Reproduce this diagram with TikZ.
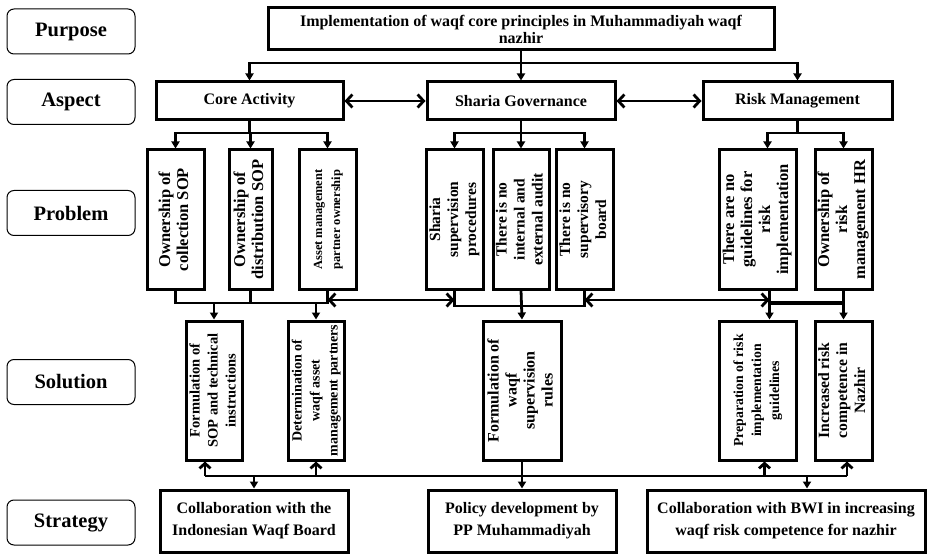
\documentclass[tikz,border=0pt]{standalone}
\usepackage{fontspec}
\setmainfont{Liberation Serif}
\usetikzlibrary{arrows.meta}
\usetikzlibrary{calc}

% rotated multi-line text for the tall boxes
\newcommand{\vtxt}[2]{\rotatebox{90}{\fontsize{#1}{18}\selectfont\begin{tabular}{@{}c@{}}#2\end{tabular}}}

\begin{document}
\begin{tikzpicture}[x=1pt,y=-1pt,line width=2.8pt,font=\bfseries,
  lbl/.style={draw,line width=1pt,rounded corners=7pt,minimum width=128pt,
    minimum height=45pt,font=\fontsize{20.5}{22}\selectfont\bfseries},
  hbox/.style={draw,line width=3pt,align=center,inner sep=0pt},
  vbox/.style={draw,line width=3pt,inner sep=0pt,minimum height=139pt},
  dn/.style={-{Triangle[length=7pt,width=8pt]}},
  bi/.style={{Straight Barb[length=6pt,width=13pt]}-{Straight Barb[length=6pt,width=13pt]}},
  up/.style={-{Straight Barb[length=5pt,width=11pt]}}]

  \useasboundingbox (0,0) rectangle (929,556);

  % row labels
  \node[lbl] (lpur) at (71,31.5)  {Purpose};
  \node[lbl] (lasp) at (71,102)   {Aspect};
  \node[lbl] (lpro) at (71,213)   {Problem};
  \node[lbl] (lsol) at (71,382)   {Solution};
  \node[lbl] (lstr) at (71,522.5) {Strategy};

  % purpose and aspects
  \node[hbox,minimum width=506pt,minimum height=42pt,font=\fontsize{16}{17}\selectfont\bfseries]
    (pur) at (521,29) {Implementation of waqf core principles in Muhammadiyah waqf\\nazhir};
  \node[hbox,minimum width=187pt,minimum height=38pt,font=\fontsize{16}{17}\selectfont\bfseries]
    (ca) at (249.5,101) {Core Activity};
  \node[hbox,minimum width=188pt,minimum height=38pt,font=\fontsize{16}{17}\selectfont\bfseries]
    (sg) at (521,101) {Sharia Governance};
  \node[hbox,minimum width=189pt,minimum height=38pt,font=\fontsize{16}{17}\selectfont\bfseries]
    (rm) at (797.5,101) {Risk Management};

  % problems
  \node[vbox,minimum width=57pt] (cp1) at (175.5,219.5) {\vtxt{16.5}{Ownership of\\collection SOP}};
  \node[vbox,minimum width=43pt] (cp2) at (250.5,219.5) {\vtxt{16.5}{Ownership of\\distribution SOP}};
  \node[vbox,minimum width=57pt] (cp3) at (327.5,219.5) {\vtxt{12.5}{Asset management\\partner ownership}};
  \node[vbox,minimum width=57pt] (sp1) at (454.5,219.5) {\vtxt{15.5}{Sharia\\supervision\\procedures}};
  \node[vbox,minimum width=56pt] (sp2) at (521,219.5)   {\vtxt{15.5}{There is no\\internal and\\external audit}};
  \node[vbox,minimum width=57pt] (sp3) at (584.5,219.5) {\vtxt{15.5}{There is no\\supervisory\\board}};
  \node[vbox,minimum width=77pt] (rp1) at (757.5,219.5) {\vtxt{16.5}{There are no\\guidelines for\\risk\\implementation}};
  \node[vbox,minimum width=57pt] (rp2) at (843.5,219.5) {\vtxt{16.5}{Ownership of\\risk\\management HR}};

  % solutions
  \node[vbox,minimum width=56pt] (cs1) at (214,390.5)   {\vtxt{14.5}{Formulation of\\SOP and technical\\instructions}};
  \node[vbox,minimum width=56pt] (cs2) at (316,390.5)   {\vtxt{14}{Determination of\\waqf asset\\management partners}};
  \node[vbox,minimum width=78pt] (ss1) at (522,390.5)   {\vtxt{16}{Formulation of\\waqf\\supervision\\rules}};
  \node[vbox,minimum width=77pt] (rs1) at (757.5,390.5) {\vtxt{13.8}{Preparation of risk\\implementation\\guidelines}};
  \node[vbox,minimum width=57pt] (rs2) at (843.5,390.5) {\vtxt{15.7}{Increased risk\\competence in\\Nazhir}};

  % strategies
  \node[hbox,minimum width=188pt,minimum height=62pt,font=\fontsize{16}{22}\selectfont\bfseries]
    (st1) at (254,521) {Collaboration with the\\Indonesian Waqf Board};
  \node[hbox,minimum width=188pt,minimum height=62pt,font=\fontsize{16}{22}\selectfont\bfseries]
    (st2) at (522,521) {Policy development by\\PP Muhammadiyah};
  \node[hbox,minimum width=278pt,minimum height=62pt,font=\fontsize{16}{22}\selectfont\bfseries]
    (st3) at (786,521) {Collaboration with BWI in increasing\\waqf risk competence for nazhir};

  % purpose -> aspects
  \coordinate (j1) at (521,63);
  \draw[dn] (pur.south) -- (sg.north);
  \draw[dn] (j1) -| (ca.north);
  \draw[dn] (j1) -| (rm.north);
  \draw[bi] (ca.east) -- (sg.west);
  \draw[bi] (sg.east) -- (rm.west);

  % aspects -> problems
  \coordinate (j2) at (0,133);
  \draw (ca.south) -- (ca.south |- j2);
  \draw[dn] (ca.south |- j2) -| (cp1.north);
  \draw[dn] (ca.south |- j2) -| (cp3.north);
  \draw[dn] (cp2.north |- j2) -- (cp2.north);
  \draw (sg.south) -- (sg.south |- j2);
  \draw[dn] (sg.south |- j2) -| (sp1.north);
  \draw[dn] (sg.south |- j2) -| (sp3.north);
  \draw[dn] (sp2.north |- j2) -- (sp2.north);
  \coordinate (rj) at ([xshift=10pt]rp1.north);
  \draw (rm.south) -- (rm.south |- j2);
  \draw[dn] (rm.south |- j2) -| (rj);
  \draw[dn] (rm.south |- j2) -| (rp2.north);

  % problems -> solutions
  \coordinate (j3) at (0,303);
  \coordinate (j4) at (0,300);
  \draw (cp1.south) |- (cp3.south |- j3) -- (cp3.south);
  \draw (cp2.south) -- (cp2.south |- j3);
  \draw[dn] (cs1.north |- j3) -- (cs1.north);
  \draw[dn] (cs2.north |- j3) -- (cs2.north);
  \draw[bi] (cp3.south |- j4) -- (sp1.south |- j4);
  \draw (sp1.south) |- ($(sp3.south |- j3)+(0,3)$) -- (sp3.south);
  \draw[dn] (sp2.south) -- (ss1.north);
  \coordinate (rb) at ([xshift=12pt]rp1.south);
  \draw[bi] (sp3.south |- j4) -- (rb |- j4);
  \draw (rb) -- (rb |- j3) -- (rp2.south |- j3) -- (rp2.south);
  \draw[line width=4pt] (rb |- j3) -- (rp2.south |- j3);
  \draw[dn] (rb |- j3) -- (rb |- rs1.north);
  \draw[dn] (rs2.north |- j3) -- (rs2.north);

  % solutions -> strategies
  \coordinate (bl) at (205,476);
  \coordinate (br) at (847,476);
  \draw (bl) -- (br);
  \draw[up] (bl) -- (bl |- cs1.south);
  \draw[up] (cs2.south |- bl) -- (cs2.south);
  \draw[up] ([xshift=7pt]rs1.south |- bl) -- ([xshift=7pt]rs1.south);
  \draw[up] (br) -- (br |- rs2.south);
  \draw[dn] (ss1.south) -- (st2.north);
  \draw[dn] (st1.north |- bl) -- (st1.north);
  \draw[dn] ([xshift=21pt]st3.north |- bl) -- ([xshift=21pt]st3.north);
\end{tikzpicture}
\end{document}
